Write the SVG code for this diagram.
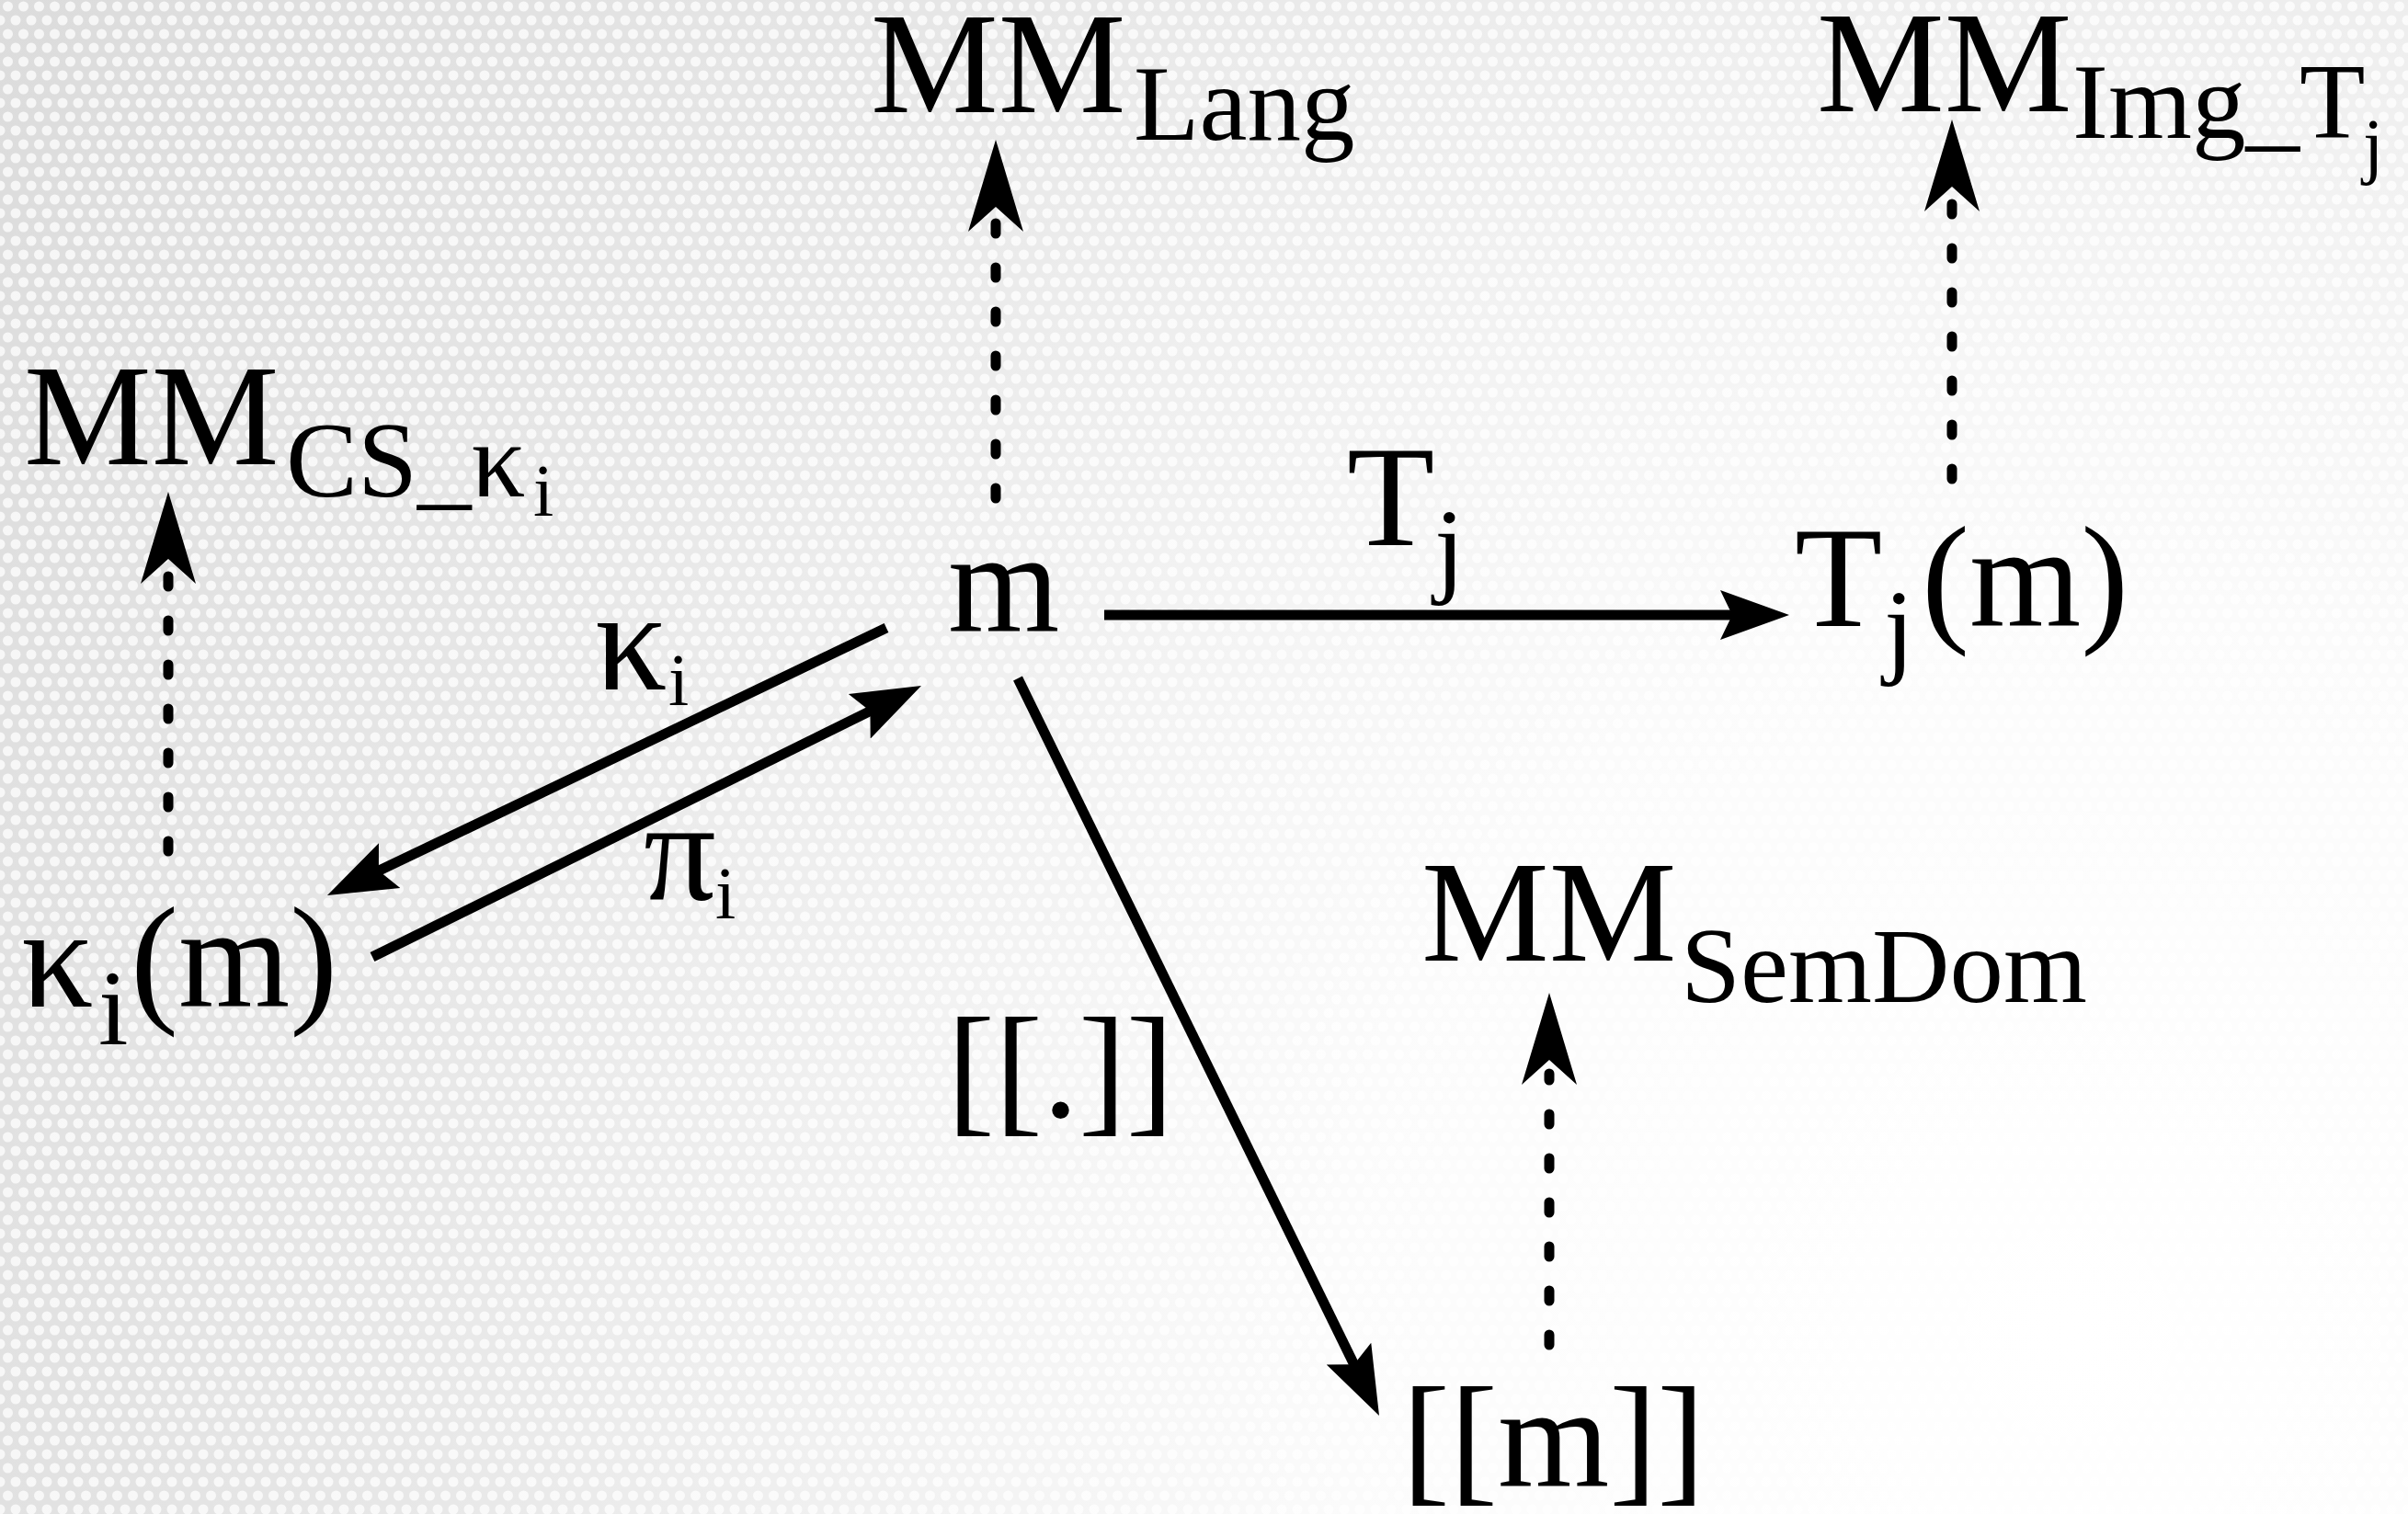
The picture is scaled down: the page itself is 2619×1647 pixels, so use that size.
<svg xmlns="http://www.w3.org/2000/svg" width="2619" height="1647" viewBox="0 0 2619 1647">
<style>
.t{font-family:"Liberation Serif","Times New Roman",serif;font-size:156px;fill:#000}
.s{font-size:117px}
.ss{font-size:80px}
.solid{fill:none;stroke:#000;stroke-width:11}
.dot{fill:none;stroke:#000;stroke-width:11;stroke-linecap:round;stroke-dasharray:11 37}
</style>
<defs>
<pattern id="tex" width="17" height="30" patternUnits="userSpaceOnUse">
<circle cx="8.5" cy="7" r="5.5" fill="#fff"/>
<circle cx="0" cy="22" r="5.5" fill="#fff"/>
<circle cx="17" cy="22" r="5.5" fill="#fff"/>
</pattern>
<radialGradient id="fade" cx="2250" cy="1450" r="2600" gradientUnits="userSpaceOnUse">
<stop offset="0" stop-color="#fff" stop-opacity="1"/>
<stop offset="0.3" stop-color="#fff" stop-opacity="0.92"/>
<stop offset="0.7" stop-color="#fff" stop-opacity="0.45"/>
<stop offset="1" stop-color="#fff" stop-opacity="0.2"/>
</radialGradient>
<marker id="head" markerUnits="userSpaceOnUse" markerWidth="80" markerHeight="60" viewBox="0 -30 80 60" refX="20" refY="0" orient="auto">
<path d="M75,0 L0,-27 L13,0 L0,27 Z" fill="#000"/>
</marker>
<marker id="dhead" markerUnits="userSpaceOnUse" markerWidth="104" markerHeight="64" viewBox="0 -32 104 64" refX="12" refY="0" orient="auto">
<path d="M100,0 L0,-30 L27,0 L0,30 Z" fill="#000"/>
</marker>
</defs>
<g id="background">
<rect width="2619" height="1647" fill="#d4d4d4"/>
<rect width="2619" height="1647" fill="url(#tex)" opacity="0.75"/>
<rect width="2619" height="1647" fill="url(#fade)"/>
</g>
<g id="connectors">
<path class="dot" d="M1083,542 L1083,240" marker-end="url(#dhead)"/>
<path class="dot" d="M2123,521 L2123,218" marker-end="url(#dhead)"/>
<path class="dot" d="M183,926 L183,623" marker-end="url(#dhead)"/>
<path class="dot" d="M1685,1463 L1685,1168" marker-end="url(#dhead)"/>
<path class="solid" d="M1201,669 L1891,669" marker-end="url(#head)"/>
<path class="solid" d="M964,683 L405.6,950.3" marker-end="url(#head)"/>
<path class="solid" d="M405,1041 L952.7,770.4" marker-end="url(#head)"/>
<path class="solid" d="M1107,738 L1475.8,1490.6" marker-end="url(#head)"/>
<text class="t" x="1465" y="593">T<tspan class="s" x="1560" dy="41">j</tspan></text>
<text class="t" x="647" y="750">κ<tspan class="ss" x="727" dy="17">i</tspan></text>
<text class="t" x="700" y="978">π<tspan class="ss" x="778" dy="21">i</tspan></text>
<text class="t" x="1030" y="1215">[[.]]</text>
</g>
<g id="node-mm-lang">
<text class="t" x="947" y="122">MM<tspan class="s" x="1233" dy="30">Lang</tspan></text>
</g>
<g id="node-mm-img">
<text class="t" x="1976" y="121">MM<tspan class="s" x="2254" dy="29">Img_T</tspan><tspan class="ss" x="2570" dy="35">j</tspan></text>
</g>
<g id="node-mm-cs">
<text class="t" x="26" y="505">MM<tspan class="s" x="311" dy="35">CS_κ</tspan><tspan class="ss" x="580" dy="21">i</tspan></text>
</g>
<g id="node-m">
<text class="t" x="1031" y="687">m</text>
</g>
<g id="node-tj-m">
<text class="t" x="1952" y="681">T<tspan class="s" x="2049" dy="41">j</tspan><tspan x="2090" dy="-41">(m)</tspan></text>
</g>
<g id="node-ki-m">
<text class="t" x="23" y="1095">κ<tspan class="s" x="107" dy="41">i</tspan><tspan x="142" dy="-41">(m)</tspan></text>
</g>
<g id="node-mm-semdom">
<text class="t" x="1546" y="1045">MM<tspan class="s" x="1828" dy="45">SemDom</tspan></text>
</g>
<g id="node-sem-m">
<text class="t" x="1525" y="1617">[[m]]</text>
</g>
</svg>
